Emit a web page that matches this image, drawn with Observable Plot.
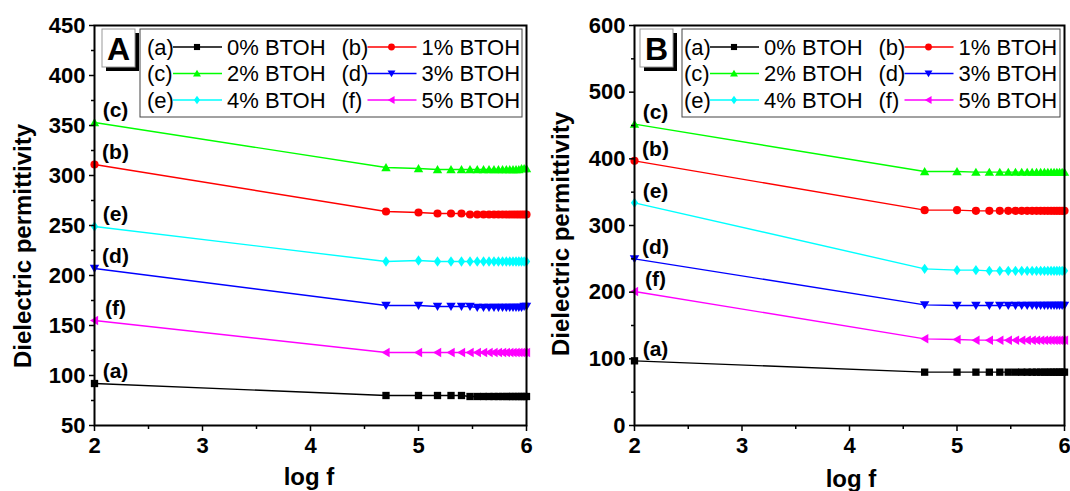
<!DOCTYPE html>
<html>
<head>
<meta charset="utf-8">
<script src="https://cdn.jsdelivr.net/npm/d3@7"></script>
<script src="https://cdn.jsdelivr.net/npm/@observablehq/plot@0.6"></script>
<style>
  html, body { margin: 0; padding: 0; background: #fff; }
  #row { display: flex; width: 1070px; height: 491px; overflow: hidden; }
  #row svg { display: block; flex: none; }
</style>
</head>
<body>
<div id="row"></div>
<script>
// Measurement frequencies: 100 Hz, then 50 kHz ... 1 MHz in 50 kHz steps (as log f)
const logF = [2, 4.699, 5, 5.176, 5.301, 5.398, 5.477, 5.544, 5.602, 5.653, 5.699,
              5.740, 5.778, 5.813, 5.845, 5.875, 5.903, 5.929, 5.954, 5.978, 6];

const seriesKeys   = ["a", "b", "c", "d", "e", "f"];
const seriesNames  = ["0% BTOH", "1% BTOH", "2% BTOH", "3% BTOH", "4% BTOH", "5% BTOH"];
const seriesColors = ["#000000", "#ff0000", "#00ff00", "#0000ff", "#00ffff", "#ff00ff"];

// Panel A – dielectric permittivity
const panelA_a = [92, 80, 80, 80, 80, 80, 79, 79, 79, 79, 79, 79, 79, 79, 79, 79, 79, 79, 79, 79, 79];
const panelA_b = [311, 264, 263, 262, 262, 262, 261, 261, 261, 261, 261, 261, 261, 261, 261, 261, 261, 261, 261, 261, 261];
const panelA_c = [353, 308, 307, 306, 306, 306, 306, 306, 306, 306, 306, 306, 306, 306, 306, 306, 306, 306, 307, 307, 307];
const panelA_d = [207, 170, 170, 169, 169, 169, 169, 168, 168, 168, 168, 168, 168, 168, 168, 168, 168, 168, 168, 169, 169];
const panelA_e = [249, 214, 215, 214, 214, 214, 214, 214, 214, 214, 214, 214, 214, 214, 214, 214, 214, 214, 214, 214, 214];
const panelA_f = [155, 123, 123, 123, 123, 123, 123, 123, 123, 123, 123, 123, 123, 123, 123, 123, 123, 123, 123, 123, 123];

// Panel B – dielectric permittivity
const panelB_a = [97, 80, 80, 80, 80, 80, 80, 80, 80, 80, 80, 80, 80, 80, 80, 80, 80, 80, 80, 80, 80];
const panelB_b = [397, 323, 323, 322, 322, 322, 322, 322, 322, 322, 322, 322, 322, 322, 322, 322, 322, 322, 322, 322, 322];
const panelB_c = [452, 381, 381, 380, 380, 380, 380, 380, 380, 380, 380, 380, 380, 380, 380, 380, 380, 380, 380, 380, 380];
const panelB_d = [250, 181, 180, 180, 180, 180, 180, 180, 180, 180, 180, 180, 180, 180, 180, 180, 180, 180, 180, 180, 180];
const panelB_e = [334, 235, 233, 233, 232, 232, 232, 232, 232, 232, 232, 232, 232, 232, 232, 232, 232, 232, 232, 232, 232];
const panelB_f = [201, 130, 129, 128, 128, 128, 128, 128, 128, 128, 128, 128, 128, 128, 128, 128, 128, 128, 128, 128, 128];

// Axis ticks
const xTicks = [2, 3, 4, 5, 6];
const xMinorTicks = [2.5, 3.5, 4.5, 5.5];
const yTicksA = [50, 100, 150, 200, 250, 300, 350, 400, 450];
const yMinorTicksA = [75, 125, 175, 225, 275, 325, 375, 425];
const yTicksB = [0, 100, 200, 300, 400, 500, 600];
const yMinorTicksB = [50, 150, 250, 350, 450, 550];

const FONT = "'Liberation Sans', Arial, sans-serif";

// Marker shapes: square, circle, up-triangle, down-triangle, diamond, left-triangle
function poly(pts) {
  return {
    draw(ctx, size) {
      const s = Math.sqrt(size / Math.PI);
      ctx.moveTo(pts[0][0] * s, pts[0][1] * s);
      for (let k = 1; k < pts.length; k++) ctx.lineTo(pts[k][0] * s, pts[k][1] * s);
      ctx.closePath();
    }
  };
}
const symbols = [
  poly([[-0.85, -0.85], [0.85, -0.85], [0.85, 0.85], [-0.85, 0.85]]),
  { draw(ctx, size) { const s = Math.sqrt(size / Math.PI); ctx.moveTo(0.95 * s, 0); ctx.arc(0, 0, 0.95 * s, 0, 2 * Math.PI); } },
  poly([[0, -1.05], [1.1, 0.85], [-1.1, 0.85]]),
  poly([[0, 1.05], [1.1, -0.85], [-1.1, -0.85]]),
  poly([[0, -1.2], [0.85, 0], [0, 1.2], [-0.85, 0]]),
  poly([[-1.05, 0], [0.85, -1.1], [0.85, 1.1]])
];

function drawPanel(cfg) {
  const rows = [];
  seriesKeys.forEach((k, i) => cfg.values[i].forEach((v, j) => rows.push({ key: k, i, x: logF[j], y: v })));
  const firsts = rows.filter(d => d.x === logF[0]);

  const svg = Plot.plot({
    width: 535,
    height: 491,
    marginLeft: cfg.marginLeft,
    marginRight: cfg.marginRight,
    marginTop: 25,
    marginBottom: 66,
    style: { fontFamily: FONT, color: "#000", background: "#fff", overflow: "visible" },
    x: { domain: [2, 6], label: null },
    y: { domain: cfg.yDomain, label: null },
    marks: [
      ...seriesKeys.map((k, i) => Plot.line(rows.filter(d => d.key === k), {
        x: "x", y: "y", stroke: seriesColors[i], strokeWidth: 1.4
      })),
      ...seriesKeys.map((k, i) => Plot.dot(rows.filter(d => d.key === k), {
        x: "x", y: "y", symbol: symbols[i], r: 4.3, fill: seriesColors[i], stroke: null
      })),
      Plot.text(firsts, {
        x: "x", y: "y", text: d => `(${d.key})`, dx: 21, dy: -12,
        fontSize: 21, fontWeight: "bold", fill: "#000", textAnchor: "middle"
      }),
      Plot.axisX({ ticks: xTicks, tickSize: 6, tickPadding: 6, tickFormat: "d",
        fontSize: 22, fontWeight: "bold", strokeWidth: 1.5, label: null }),
      Plot.axisX({ ticks: xMinorTicks, tickSize: 4, tickFormat: () => "", strokeWidth: 1.5, label: null }),
      Plot.axisY({ ticks: cfg.yTicks, tickSize: 5, tickPadding: 4, tickFormat: "d",
        fontSize: 22, fontWeight: "bold", strokeWidth: 1.5, label: null }),
      Plot.axisY({ ticks: cfg.yMinor, tickSize: 3, tickFormat: () => "", strokeWidth: 1.5, label: null }),
      Plot.frame({ stroke: "#000", strokeWidth: 2 })
    ]
  });

  const g = d3.select(svg).append("g").attr("font-family", FONT).attr("fill", "#000");

  // Axis titles
  g.append("text")
    .attr("transform", `translate(${cfg.yTitle[0]},${cfg.yTitle[1]}) rotate(-90)`)
    .attr("text-anchor", "middle").attr("font-size", 24).attr("font-weight", "bold")
    .text("Dielectric permittivity");
  g.append("text")
    .attr("x", cfg.xTitle[0]).attr("y", cfg.xTitle[1])
    .attr("text-anchor", "middle").attr("font-size", 24).attr("font-weight", "bold")
    .text("log f");

  // Panel letter with drop shadow
  const [bx, by] = cfg.letterBox;
  g.append("rect").attr("x", bx + 4).attr("y", by + 4).attr("width", 33).attr("height", 38).attr("fill", "#000");
  g.append("rect").attr("x", bx).attr("y", by).attr("width", 33).attr("height", 38)
    .attr("fill", "#fff").attr("stroke", "#999").attr("stroke-width", 1);
  g.append("text").attr("x", bx + 16.5).attr("y", by + 31).attr("text-anchor", "middle")
    .attr("font-size", 32).attr("font-weight", "bold").text(cfg.letter);

  // Legend
  const [lx, ly, lw, lh] = cfg.legendBox;
  g.append("rect").attr("x", lx).attr("y", ly).attr("width", lw).attr("height", lh)
    .attr("fill", "#fff").attr("stroke", "#444").attr("stroke-width", 1);
  const rowY = [ly + 18, ly + 44.5, ly + 71];
  seriesKeys.forEach((k, i) => {
    const base = cfg.legendContent + (i % 2) * 194.5;
    const y = rowY[Math.floor(i / 2)];
    const item = g.append("g").attr("font-size", 22).attr("text-anchor", "start").attr("font-weight", "normal");
    item.append("text").attr("x", base + 7).attr("y", y).attr("dy", "0.36em").text(`(${k})`);
    item.append("line").attr("x1", base + 33).attr("x2", base + 82).attr("y1", y).attr("y2", y)
      .attr("stroke", seriesColors[i]).attr("stroke-width", 1.4);
    const p = d3.path();
    symbols[i].draw(p, Math.PI * 3.6 * 3.6);
    item.append("path").attr("d", p.toString()).attr("transform", `translate(${base + 57},${y})`)
      .attr("fill", seriesColors[i]);
    item.append("text").attr("x", base + 87).attr("y", y).attr("dy", "0.36em").text(seriesNames[i]);
  });

  document.getElementById("row").appendChild(svg);
}

drawPanel({
  letter: "A",
  values: [panelA_a, panelA_b, panelA_c, panelA_d, panelA_e, panelA_f],
  yDomain: [50, 450], yTicks: yTicksA, yMinor: yMinorTicksA,
  marginLeft: 94, marginRight: 9,
  yTitle: [31, 246], xTitle: [309, 485],
  letterBox: [102, 29], legendBox: [140, 29, 382, 88], legendContent: 140
});

drawPanel({
  letter: "B",
  values: [panelB_a, panelB_b, panelB_c, panelB_d, panelB_e, panelB_f],
  yDomain: [0, 600], yTicks: yTicksB, yMinor: yMinorTicksB,
  marginLeft: 99, marginRight: 6,
  yTitle: [34, 234], xTitle: [316, 487],
  letterBox: [105, 29], legendBox: [147, 29, 378, 88], legendContent: 142
});
</script>
</body>
</html>
